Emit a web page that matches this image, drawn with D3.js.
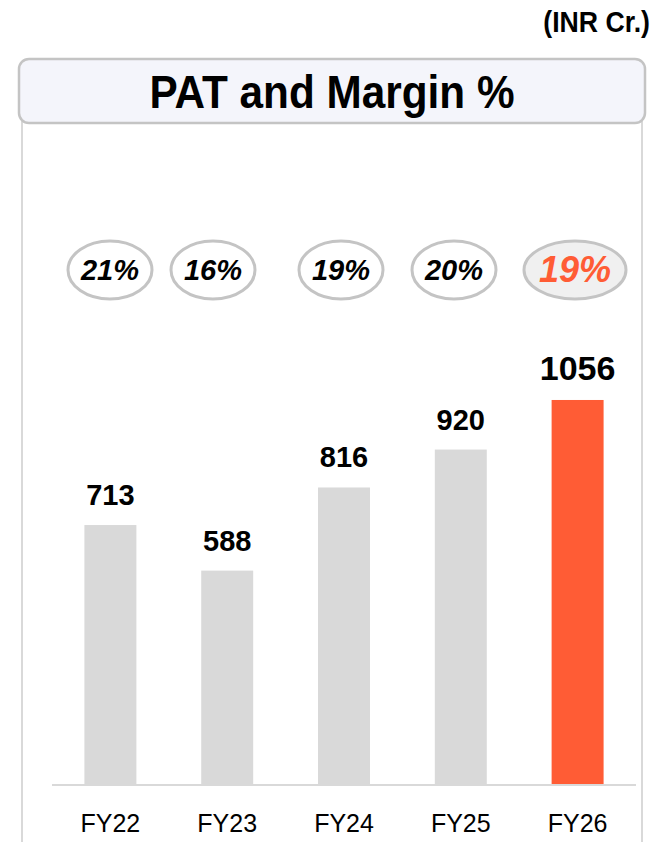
<!DOCTYPE html>
<html>
<head>
<meta charset="utf-8">
<script src="https://cdn.jsdelivr.net/npm/d3@7"></script>
<style>
  html, body { margin: 0; padding: 0; background: #fff; }
  svg { display: block; }
</style>
</head>
<body>
<svg id="chart" width="661" height="842"></svg>
<script>
// chart data
const years = ["FY22", "FY23", "FY24", "FY25", "FY26"];
const pat = [713, 588, 816, 920, 1056];
const margins = [21, 16, 19, 20, 19];
const unitLabel = "(INR Cr.)";
const title = "PAT and Margin %";

const width = 661, height = 842;
const svg = d3.select("#chart");
const font = "'Liberation Sans', Arial, sans-serif";
const orange = "#ff5c35";
const grey = "#d9d9d9";

// unit note (slightly condensed like the source font)
svg.append("text")
  .attr("transform", "translate(650,32) scale(0.92,1)")
  .attr("text-anchor", "end")
  .style("font-family", font)
  .style("font-weight", "bold")
  .style("font-size", "29px")
  .text(unitLabel);

// panel side lines
svg.append("line")
  .attr("x1", 22).attr("x2", 22).attr("y1", 120).attr("y2", height)
  .style("stroke", grey).style("stroke-width", 2);
svg.append("line")
  .attr("x1", 642).attr("x2", 642).attr("y1", 120).attr("y2", height)
  .style("stroke", grey).style("stroke-width", 2);

// title box
svg.append("rect")
  .attr("x", 19).attr("y", 59)
  .attr("width", 626).attr("height", 64)
  .attr("rx", 10)
  .style("fill", "#f4f5fb")
  .style("stroke", "#c4c4c4")
  .style("stroke-width", 2.5);
svg.append("text")
  .attr("transform", "translate(332,108) scale(0.92,1)")
  .attr("text-anchor", "middle")
  .style("font-family", font)
  .style("font-weight", "bold")
  .style("font-size", "46px")
  .text(title);

// scales
const x = d3.scaleBand()
  .domain(years)
  .range([52, 636])
  .paddingInner(0.555)
  .paddingOuter(0.2775);

const baseY = 785;
const y = d3.scaleLinear()
  .domain([0, 1200])
  .range([baseY, baseY - 1200 * 0.3646]);

const isLast = (i) => i === years.length - 1;

// bars
svg.append("g")
  .selectAll("rect")
  .data(years)
  .join("rect")
  .attr("x", d => x(d))
  .attr("width", x.bandwidth())
  .attr("y", (d, i) => y(pat[i]))
  .attr("height", (d, i) => y(0) - y(pat[i]))
  .style("fill", (d, i) => isLast(i) ? orange : grey);

// value labels
svg.append("g")
  .selectAll("text")
  .data(years)
  .join("text")
  .attr("x", d => x(d) + x.bandwidth() / 2)
  .attr("y", (d, i) => y(pat[i]) - 20)
  .attr("text-anchor", "middle")
  .style("font-family", font)
  .style("font-weight", "bold")
  .style("font-size", (d, i) => isLast(i) ? "34px" : "29px")
  .text((d, i) => pat[i]);

// baseline
svg.append("line")
  .attr("x1", 52).attr("x2", 636)
  .attr("y1", baseY).attr("y2", baseY)
  .style("stroke", grey).style("stroke-width", 2);

// x axis labels
const xAxis = d3.axisBottom(x).tickSize(0).tickPadding(0);
const axisG = svg.append("g")
  .attr("transform", `translate(0,${baseY})`)
  .call(xAxis);
axisG.select(".domain").remove();
axisG.selectAll("text")
  .attr("dy", null)
  .attr("y", 47)
  .style("font-family", font)
  .style("font-size", "25px")
  .style("fill", "#000");

// margin ellipses
const ellX = [110, 213, 341, 454, 575];
const marginG = svg.append("g")
  .selectAll("g")
  .data(years)
  .join("g")
  .attr("transform", (d, i) => `translate(${ellX[i]},270)`);

marginG.append("ellipse")
  .attr("rx", (d, i) => isLast(i) ? 51 : 42)
  .attr("ry", 29)
  .style("fill", (d, i) => isLast(i) ? "#f0f0f0" : "#fff")
  .style("stroke", "#c4c4c4")
  .style("stroke-width", 3);

marginG.append("text")
  .attr("y", (d, i) => isLast(i) ? 12 : 10)
  .attr("text-anchor", "middle")
  .style("font-family", font)
  .style("font-weight", "bold")
  .style("font-style", "italic")
  .style("font-size", (d, i) => isLast(i) ? "36px" : "29px")
  .style("fill", (d, i) => isLast(i) ? orange : "#000")
  .text((d, i) => margins[i] + "%");
</script>
</body>
</html>
